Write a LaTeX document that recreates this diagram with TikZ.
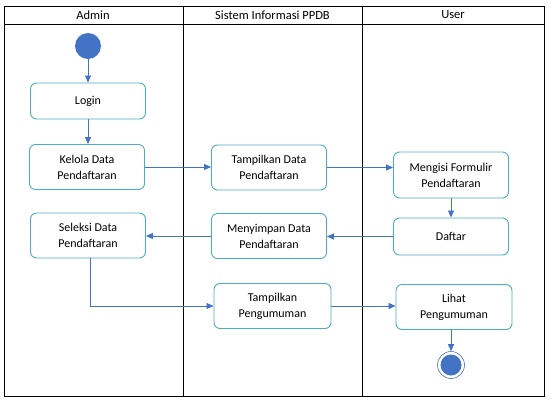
\documentclass[tikz,border=0pt]{standalone}
\usepackage{fontspec}
\setmainfont{Carlito}
\usetikzlibrary{arrows.meta}
\definecolor{actline}{RGB}{75,172,198}
\definecolor{flowblue}{RGB}{68,114,196}
\begin{document}
\begin{tikzpicture}%
[x=1pt,y=-1pt,font=\fontsize{12}{16}\selectfont,%
act/.style={draw=actline, line width=0.9pt, rounded corners=6pt, fill=white,%
  minimum width=115pt, minimum height=45pt, align=center, inner sep=2pt},%
flow/.style={draw=flowblue, line width=0.8pt, -{Triangle[length=7pt,width=6pt]}},%
lane/.style={draw=black, line width=1pt},%
head/.style={font=\fontsize{12.5}{15}\selectfont}]
\useasboundingbox (0,0) rectangle (551,402);
% swimlanes
\draw[lane] (4,6) rectangle (544,396);
\draw[lane] (4,24) -- (544,24);
\draw[lane] (183,6) -- (183,396);
\draw[lane] (362,6) -- (362,396);
\node[head] (hadmin) at (93,15) {Admin};
\node[head] (hsis) at (272.5,15) {Sistem Informasi PPDB};
\node[head] (huser) at (453,15) {User};
% activities
\node[circle, fill=flowblue, minimum size=26pt, inner sep=0pt] (start) at (88,46) {};
\node[act, minimum height=36pt] (login) at (88,101) {Login};
\node[act] (kelola) at (87,167) {Kelola Data\\Pendaftaran};
\node[act] (tdata) at (269,167.5) {Tampilkan Data\\Pendaftaran};
\node[act, minimum height=46pt] (isi) at (451,175) {Mengisi Formulir\\Pendaftaran};
\node[act, minimum height=37pt] (daftar) at (451,236.5) {Daftar};
\node[act] (simpan) at (269,236) {Menyimpan Data\\Pendaftaran};
\node[act] (seleksi) at (88,235.5) {Seleksi Data\\Pendaftaran};
\node[act, minimum width=117pt] (tpeng) at (272.5,306) {Tampilkan\\Pengumuman};
\node[act, minimum width=116pt] (lihat) at (454,307) {Lihat\\Pengumuman};
\node[circle, draw=flowblue, line width=0.6pt, fill=white, minimum size=27pt, inner sep=0pt] (stop) at (451,365) {};
\node[circle, fill=flowblue, minimum size=21pt, inner sep=0pt] at (stop) {};
% flows
\draw[flow] (start) -- (login);
\draw[flow] (login) -- (login |- kelola.north);
\draw[flow] (kelola.east) -- (kelola.east -| tdata.west);
\draw[flow] (tdata.east) -- (tdata.east -| isi.west);
\draw[flow] (isi) -- (daftar);
\draw[flow] (daftar.west) -- (daftar.west -| simpan.east);
\draw[flow] (simpan.west) -- (simpan.west -| seleksi.east);
\draw[flow] ([xshift=2pt]seleksi.south) |- (tpeng.west);
\draw[flow] (tpeng.east) -- (tpeng.east -| lihat.west);
\draw[flow] (stop |- lihat.south) -- (stop.north);
\end{tikzpicture}
\end{document}
